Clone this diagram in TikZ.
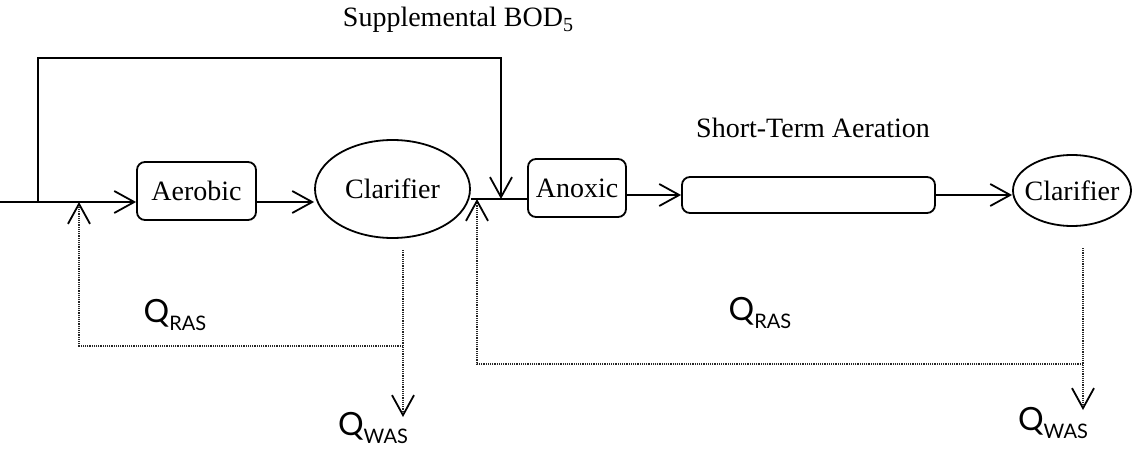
\documentclass[tikz,border=0pt]{standalone}
\usepackage{fontspec}
\setmainfont{Liberation Serif}
\newfontfamily\qfont{Lato}
\usetikzlibrary{arrows.meta,shapes.geometric}
\newcommand{\qflow}[1]{{\qfont\fontsize{16}{18}\selectfont Q\raisebox{-0.45ex}{\fontsize{10}{11}\selectfont #1}}}

\begin{document}
\begin{tikzpicture}[x=0.5pt, y=-0.5pt, font=\fontsize{14}{16}\selectfont,
		flow/.style={line width=0.9pt, -{Straight Barb[length=10pt,width=11pt]}},
		pipe/.style={line width=0.9pt},
		ret/.style={line width=0.6pt, dash pattern=on 0.6pt off 0.5pt, black!85},
		retflow/.style={ret, -{Straight Barb[length=10pt,width=11pt,line width=0.9pt,color=black]}},
		tank/.style={draw, line width=0.9pt, rounded corners=4pt, inner sep=0pt},
		clar/.style={draw, ellipse, line width=0.9pt, inner sep=0pt}]
	\useasboundingbox (0,0) rectangle (1135,449);

	% 处理单元
	\node[tank, minimum width=59.5pt, minimum height=29pt] (aerobic) at (196.5,191) {Aerobic};
	\node[clar, minimum width=77.5pt, minimum height=49pt, label=center:Clarifier] (clar1) at (392.5,189) {};
	\node[tank, minimum width=49pt, minimum height=29pt] (anoxic) at (577,188) {Anoxic};
	\node[tank, minimum width=126.5pt, minimum height=18pt] (aeration) at (808.5,195) {};
	\node[clar, minimum width=59pt, minimum height=35.5pt, label=center:Clarifier] (clar2) at (1072,190.5) {};

	% 文字标注
	\node (aerlabel) at (813,128) {Short-Term Aeration};
	\node (bodlabel) at (458,20) {Supplemental BOD\raisebox{-0.4ex}{\fontsize{10}{11}\selectfont 5}};
	\node (ras1) at (175,315) {\qflow{RAS}};
	\node (ras2) at (760,313) {\qflow{RAS}};
	\node (was1) at (373,428) {\qflow{WAS}};
	\node (was2) at (1053,423) {\qflow{WAS}};

	% 管线节点
	\coordinate (feed) at (0,202);
	\coordinate (split) at (38,202);
	\coordinate (ret1) at (79,202);
	\coordinate (top) at (270,58);
	\coordinate (mix) at (501,199);
	\coordinate (ret2) at (477,199);
	\coordinate (drain1) at (403,250);
	\coordinate (bend1) at (403,346);
	\coordinate (waste1) at (403,417);
	\coordinate (drain2) at (1083,248);
	\coordinate (bend2) at (1083,364);
	\coordinate (waste2) at (1083,410);

	% 主流程
	\draw[flow] (feed) -- (aerobic.west |- feed);
	\draw[flow] (split) |- (top) -| (mix);
	\draw[flow] (aerobic.east |- feed) -- (clar1.west |- feed);
	\draw[pipe] (clar1.east |- mix) -- (anoxic.west |- mix);
	\draw[flow] (anoxic.east |- aeration.west) -- (aeration.west);
	\draw[flow] (aeration.east) -- (clar2.west |- aeration.east);

	% 回流与排泥（虚线）
	\draw[retflow] (drain1) -- (waste1);
	\draw[retflow] (bend1) -| (ret1);
	\draw[retflow] (drain2) -- (waste2);
	\draw[retflow] (bend2) -| (ret2);
\end{tikzpicture}
\end{document}
